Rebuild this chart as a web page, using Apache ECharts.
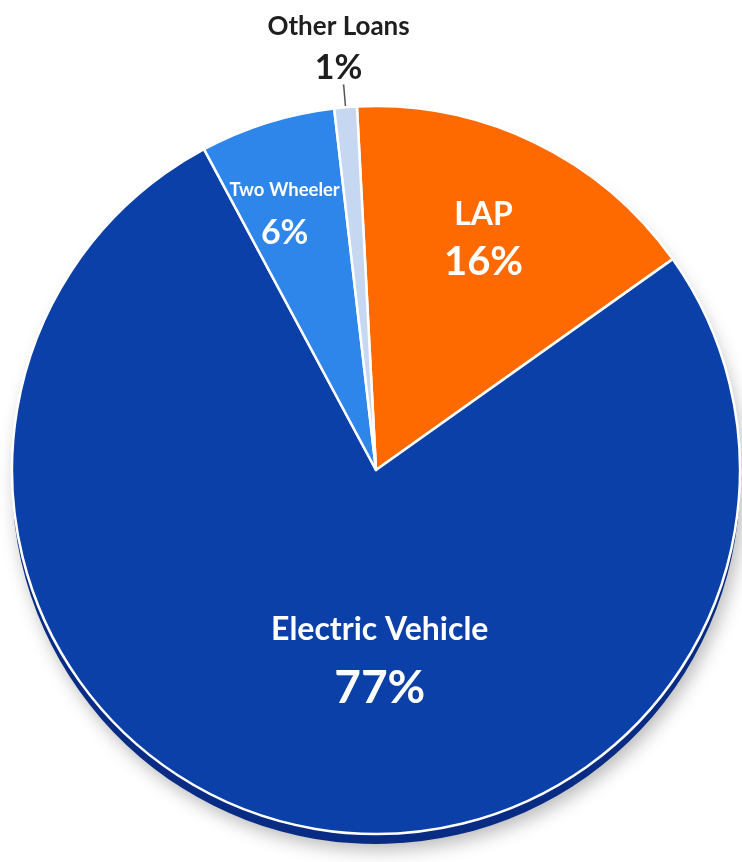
<!DOCTYPE html>
<html>
<head>
<meta charset="utf-8">
<script src="https://cdn.jsdelivr.net/npm/echarts@6/dist/echarts.min.js"></script>
<style>
  html, body { margin: 0; padding: 0; background: #ffffff; }
  #chart { width: 742px; height: 862px; }
</style>
</head>
<body>
<div id="chart"></div>
<script>
// Loan book mix by product
const categories = ['LAP', 'Electric Vehicle', 'Two Wheeler', 'Other Loans'];
const shares = [16, 77, 6, 1];
const sliceColors = ['#FF6A00', '#0A40A7', '#2F86EA', '#C6D7F1'];
const sideColors = ['#C24F00', '#082B84', '#1E62B8', '#9FB3D6'];

// Per-label nudges from the default label position
const labelNudge = [
  { dx: 27, dy: -65 },
  { dx: 46, dy: 9 },
  { dx: -36, dy: -82 },
  { dx: 72, dy: -38 }
];

const font = 'Lato';
const richText = {
  lapName: { fontFamily: font, fontSize: 32, fontWeight: 700, color: '#fff', lineHeight: 47, align: 'center' },
  lapVal: { fontFamily: font, fontSize: 40, fontWeight: 700, color: '#fff', lineHeight: 47, align: 'center' },
  evName: { fontFamily: font, fontSize: 32, fontWeight: 700, color: '#fff', lineHeight: 58, align: 'center' },
  evVal: { fontFamily: font, fontSize: 46, fontWeight: 700, color: '#fff', lineHeight: 58, align: 'center' },
  twName: { fontFamily: font, fontSize: 18.5, fontWeight: 700, color: '#fff', lineHeight: 43, align: 'center' },
  twVal: { fontFamily: font, fontSize: 34, fontWeight: 700, color: '#fff', lineHeight: 43, align: 'center' },
  otName: { fontFamily: font, fontSize: 26, fontWeight: 700, color: '#1e1e1e', lineHeight: 42, align: 'center' },
  otVal: { fontFamily: font, fontSize: 34, fontWeight: 700, color: '#1e1e1e', lineHeight: 42, align: 'center' }
};
const richKeys = [['lapName', 'lapVal'], ['evName', 'evVal'], ['twName', 'twVal'], ['otName', 'otVal']];

const pieCenter = [376, 470];
const pieRadius = 364;
const startAngle = 93;

const faceData = categories.map((name, i) => ({
  name,
  value: shares[i],
  itemStyle: { color: sliceColors[i] },
  label: i === 3
    ? { position: 'outside' }
    : { position: 'inside' },
  labelLine: i === 3
    ? { show: true, length: 22, length2: 1, lineStyle: { color: '#555', width: 1.5 } }
    : { show: false }
}));

const sideData = categories.map((name, i) => ({
  name,
  value: shares[i],
  itemStyle: { color: sideColors[i] }
}));

const chart = echarts.init(document.getElementById('chart'), null, { renderer: 'canvas' });
chart.setOption({
  backgroundColor: '#ffffff',
  animation: false,
  series: [
    {
      // depth of the disc, drawn a few pixels lower
      type: 'pie',
      center: [pieCenter[0], pieCenter[1] + 10],
      radius: pieRadius,
      startAngle,
      clockwise: true,
      silent: true,
      data: sideData,
      label: { show: false },
      labelLine: { show: false },
      itemStyle: {
        borderWidth: 0,
        shadowBlur: 18,
        shadowOffsetY: 6,
        shadowOffsetX: 4,
        shadowColor: 'rgba(0,0,0,0.28)'
      }
    },
    {
      type: 'pie',
      center: pieCenter,
      radius: pieRadius,
      startAngle,
      clockwise: true,
      data: faceData,
      itemStyle: { borderColor: '#ffffff', borderWidth: 2.5 },
      label: {
        show: true,
        formatter: (p) => {
          const k = richKeys[p.dataIndex];
          return '{' + k[0] + '|' + p.name + '}\n{' + k[1] + '|' + p.value + '%}';
        },
        rich: richText,
        align: 'center'
      },
      labelLayout: (params) => labelNudge[params.dataIndex]
    }
  ]
});
</script>
</body>
</html>
